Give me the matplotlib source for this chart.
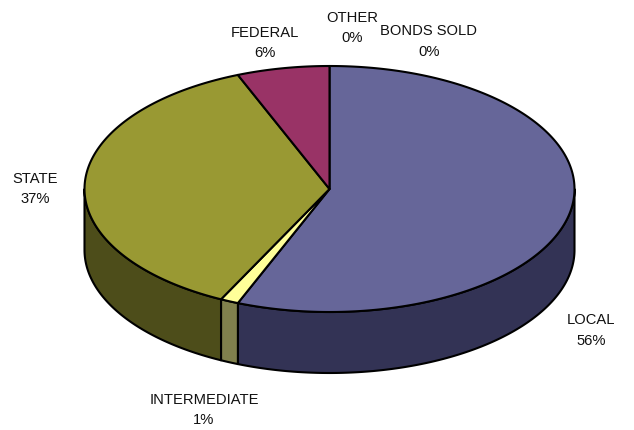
import numpy as np
import matplotlib
matplotlib.use("Agg")
import matplotlib.pyplot as plt
from matplotlib.patches import Polygon

categories = ["LOCAL", "INTERMEDIATE", "STATE", "FEDERAL", "OTHER", "BONDS SOLD"]
shares = [56.1, 1.2, 36.6, 6.1, 0, 0]
top_colors = ["#666699", "#FFFF99", "#999933", "#993366", "#FFFFFF", "#CCCCCC"]
side_colors = ["#333355", "#80804D", "#4D4D1A", "#4D1A33", "#808080", "#666666"]
label_xy = [(591, 330.5), (204, 410), (35, 189), (264.5, 43), (352, 28), (429, 41.5)]

W, H = 634, 430
CX, CY, RX, RY, DEPTH = 329.5, 189, 245, 123, 61

fig = plt.figure(figsize=(W / 100, H / 100), dpi=100, facecolor="white")
ax = fig.add_axes([0, 0, 1, 1])
ax.set_xlim(0, W)
ax.set_ylim(H, 0)
ax.axis("off")


def rim(t):
    """Point on the top ellipse; t is clockwise from twelve o'clock, in radians."""
    return CX + RX * np.sin(t), CY - RY * np.cos(t)


edges = 2 * np.pi * np.concatenate([[0], np.cumsum(shares)]) / sum(shares)
style = dict(edgecolor="black", linewidth=1.5, joinstyle="round")

# Outer wall: only the front half of the ellipse (90 to 270 degrees) is visible.
for start, stop, side in zip(edges[:-1], edges[1:], side_colors):
    a, b = max(start, np.pi / 2), min(stop, 3 * np.pi / 2)
    if b <= a:
        continue
    t = np.linspace(a, b, 200)
    x, y = rim(t)
    pts = np.r_[np.c_[x, y], np.c_[x, y + DEPTH][::-1]]
    ax.add_patch(Polygon(pts, closed=True, facecolor=side, **style))

# Top face wedges.
for start, stop, top in zip(edges[:-1], edges[1:], top_colors):
    if stop <= start:
        continue
    t = np.linspace(start, stop, 300)
    x, y = rim(t)
    pts = np.r_[[[CX, CY]], np.c_[x, y]]
    ax.add_patch(Polygon(pts, closed=True, facecolor=top, **style))

for name, share, (lx, ly) in zip(categories, shares, label_xy):
    ax.text(lx, ly, f"{name}\n{share:.0f}%", ha="center", va="center",
            family="Liberation Sans", fontsize=10.6, linespacing=1.55, color="#111111")

fig.savefig("out.png", dpi=100, facecolor="white")
